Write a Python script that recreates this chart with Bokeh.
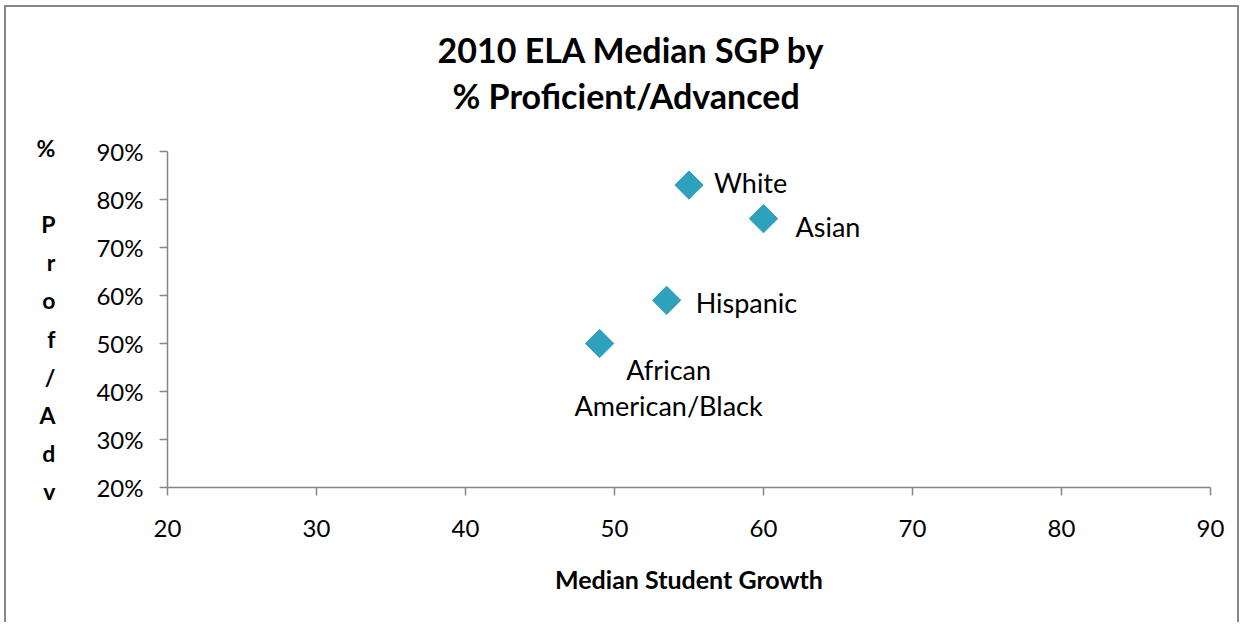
import math
from bokeh.plotting import figure
from bokeh.models import ColumnDataSource, FixedTicker, NumeralTickFormatter, Range1d, Title
from bokeh.core.properties import value
from bokeh.embed import file_html
from bokeh.resources import INLINE

# ---- data ----
groups = ["White", "Asian", "Hispanic", "African\nAmerican/Black"]
median_sgp = [55, 60, 53.5, 49]
pct_prof_adv = [0.83, 0.76, 0.59, 0.50]
x_ticks = [20, 30, 40, 50, 60, 70, 80, 90]
y_ticks = [0.2, 0.3, 0.4, 0.5, 0.6, 0.7, 0.8, 0.9]
title_lines = ["2010 ELA Median SGP by", "% Proficient/Advanced"]
x_title = "Median Student Growth"
y_title = "%\n \nP\nr\no\nf\n/\nA\nd\nv"

# label styling (pixel offsets / alignment, not data)
lab_dx = [25, 32, 29, 69]
lab_dy = [-3, 8, 2, 44]
lab_align = ["left", "left", "left", "center"]

FONT = "Lato"
AXIS_GRAY = "#868686"
MARK = "#2EA1BD"

src = ColumnDataSource(dict(x=median_sgp, y=pct_prof_adv, name=groups,
                            dx=lab_dx, dy=lab_dy, align=lab_align))

p = figure(width=1235, height=617, output_backend="svg", toolbar_location=None,
           x_range=Range1d(20, 90), y_range=Range1d(0.2, 0.9),
           min_border_left=161, min_border_right=31, min_border_top=144,
           min_border_bottom=137)
p.styles = {"border-top": "2px solid #878787", "border-left": "2px solid #878787",
            "border-right": "2px solid #878787", "margin-left": "4px", "margin-top": "5px"}
p.outline_line_color = None
p.xgrid.visible = False
p.ygrid.visible = False
p.background_fill_color = "white"
p.border_fill_color = "white"

# title: two centred lines (second line is closest to the plot)
title_offsets = [270, 285]
title_standoffs = [-65, 71]
for line, off, so in reversed(list(zip(title_lines, title_offsets, title_standoffs))):
    p.add_layout(Title(text=line, align="left", offset=off, standoff=so,
                       text_font=FONT, text_font_style="bold", text_font_size="34px",
                       text_color="black"), "above")

for ax in (p.xaxis[0], p.yaxis[0]):
    ax.axis_line_color = AXIS_GRAY
    ax.axis_line_width = 1.5
    ax.major_tick_line_color = AXIS_GRAY
    ax.major_tick_line_width = 1.5
    ax.major_tick_in = 0
    ax.major_tick_out = 8
    ax.minor_tick_line_color = None
    ax.major_label_text_font = FONT
    ax.major_label_text_font_size = "24px"
    ax.major_label_text_color = "black"
    ax.axis_label_text_font = FONT
    ax.axis_label_text_font_style = "bold"
    ax.axis_label_text_color = "black"

p.xaxis.ticker = FixedTicker(ticks=x_ticks)
p.yaxis.ticker = FixedTicker(ticks=y_ticks)
p.yaxis.formatter = NumeralTickFormatter(format="0%")
p.xaxis.major_label_standoff = 24
p.yaxis.major_label_standoff = 16

p.xaxis.axis_label = x_title
p.xaxis.axis_label_text_font_size = "25px"
p.xaxis.axis_label_standoff = 24

p.yaxis.axis_label = y_title
p.yaxis.axis_label_orientation = "horizontal"
p.yaxis.axis_label_text_font_size = "23px"
p.yaxis.axis_label_text_line_height = 1.36
p.yaxis.axis_label_standoff = 38

p.scatter("x", "y", source=src, marker="square", size=20, angle=math.pi / 4,
          fill_color=MARK, line_color=MARK)

p.text("x", "y", text="name", source=src, x_offset="dx", y_offset="dy",
       text_align="align", text_baseline="middle",
       text_font=value(FONT), text_font_size="27px", text_color="black",
       text_line_height=1.08)

open("out.html", "w").write(file_html(p, INLINE))
